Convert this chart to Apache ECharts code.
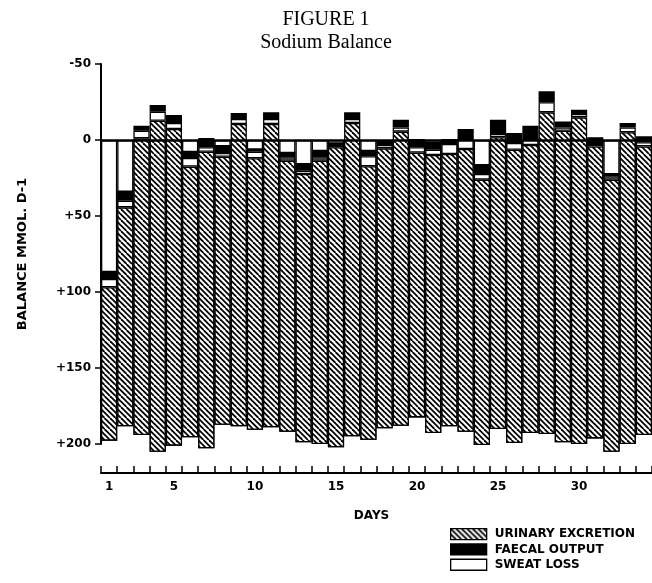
<!DOCTYPE html>
<html><head><meta charset="utf-8">
<script src="https://cdn.jsdelivr.net/npm/echarts@6/dist/echarts.min.js"></script>
<style>html,body{margin:0;padding:0;background:#fff}#c{width:652px;height:583px}</style>
</head><body><div id="c"></div>
<script>
// ---- data (mmol/day; positive = downward on the inverted balance axis) ----
const days = ['1','2','3','4','5','6','7','8','9','10','11','12','13','14','15','16','17',
  '18','19','20','21','22','23','24','25','26','27','28','29','30','31','32','33','34'];
const dayLabels = ['1','5','10','15','20','25','30'];
const yTicks = [-50, 0, 50, 100, 150, 200];
// sodium intake (bottom of each bar)
const intake = [197.8,188.4,194.1,205.1,201.1,195.6,202.8,187.3,188.4,190.6,189.0,191.9,198.9,200.0,202.2,194.9,197.2,
  189.7,188.0,182.5,192.8,188.4,191.9,200.7,190.1,199.3,192.8,193.4,198.9,200.0,196.3,205.1,200.0,194.1];
const urinary = [100.9,144.1,195.2,217.8,208.3,178.1,195.1,176.3,198.9,178.6,199.5,178.3,176.5,186.4,197.4,206.1,179.9,
  184.2,193.5,174.2,182.9,179.2,186.0,174.6,191.9,192.9,189.5,211.6,205.0,214.9,192.1,179.0,205.1,189.9];
const sweat = [5.5,4.4,5.0,5.9,4.0,5.7,2.9,2.4,3.3,4.3,3.3,2.2,2.2,2.2,1.5,2.6,6.6,
  2.2,2.8,3.5,3.5,6.6,6.6,3.7,2.1,4.4,4.0,6.6,2.2,2.2,1.6,2.2,3.2,2.7];
const faecal = [5.4,6.6,3.3,4.4,5.2,4.8,6.1,5.3,4.0,2.2,4.4,3.7,5.1,5.0,1.8,4.4,4.3,
  2.9,5.1,5.5,5.3,3.3,6.5,6.6,9.5,6.6,8.7,7.2,3.8,2.8,4.4,2.2,2.9,3.9];

// balance (top of output stack) = intake - total output
const balance = intake.map((v, i) => +(v - urinary[i] - sweat[i] - faecal[i]).toFixed(2));

function hatch() {
  const c = document.createElement('canvas');
  c.width = 11; c.height = 11;
  const g = c.getContext('2d');
  g.fillStyle = '#fff'; g.fillRect(0, 0, 11, 11);
  g.strokeStyle = '#000'; g.lineWidth = 1.8;
  for (let k = -11; k <= 11; k += 5.5) { g.beginPath(); g.moveTo(k, 0); g.lineTo(k + 11, 11); g.stroke(); }
  return c;
}
const hatchFill = { image: hatch(), repeat: 'repeat' };

const FONT = 'DejaVu Sans';
const chart = echarts.init(document.getElementById('c'), null, { renderer: 'canvas' });
const border = { borderColor: '#000', borderWidth: 1.3 };
const common = { type: 'bar', barGap: '-100%', barCategoryGap: '0%', clip: false };

chart.setOption({
  animation: false,
  backgroundColor: '#fff',
  title: [
    { text: 'FIGURE 1', left: 'center', top: 5,
      textStyle: { fontFamily: 'Liberation Serif', fontWeight: 'normal', fontSize: 20, color: '#000' } },
    { text: 'Sodium Balance', left: 'center', top: 28,
      textStyle: { fontFamily: 'Liberation Serif', fontWeight: 'normal', fontSize: 20, color: '#000' } }
  ],
  grid: { left: 101, right: -7, top: 64, bottom: 139, containLabel: false },
  legend: {
    data: ['URINARY EXCRETION', 'FAECAL OUTPUT', 'SWEAT LOSS'],
    orient: 'vertical', left: 445, top: 523, itemWidth: 36, itemHeight: 11, itemGap: 3,
    icon: 'rect', selectedMode: false,
    itemStyle: { borderColor: '#000', borderWidth: 1.3 },
    textStyle: { fontFamily: FONT, fontWeight: 'bold', fontSize: 12, color: '#000', padding: [0, 0, 0, 3], lineHeight: 12 }
  },
  xAxis: {
    type: 'category', data: days, offset: 29,
    axisLine: { show: true, onZero: false, lineStyle: { color: '#000', width: 2 } },
    axisTick: { show: true, inside: true, length: 7, interval: 0, alignWithLabel: false, lineStyle: { color: '#000', width: 1.5 } },
    axisLabel: { interval: 0, margin: 8, color: '#000', fontFamily: FONT, fontWeight: 'bold', fontSize: 12,
      formatter: v => dayLabels.indexOf(v) >= 0 ? v : '' },
    name: 'DAYS', nameLocation: 'middle', nameGap: 37,
    nameTextStyle: { fontFamily: FONT, fontWeight: 'bold', fontSize: 12, color: '#000', padding: [0, 10, 0, 0] }
  },
  yAxis: {
    type: 'value', inverse: true, min: yTicks[0], max: yTicks[yTicks.length - 1], interval: 50,
    axisLine: { show: true, lineStyle: { color: '#000', width: 2 } },
    axisTick: { show: true, length: 6, lineStyle: { color: '#000', width: 1.5 } },
    splitLine: { show: false },
    axisLabel: { margin: 10, color: '#000', fontFamily: FONT, fontWeight: 'bold', fontSize: 12,
      formatter: v => v > 0 ? '+' + v : String(v) },
    name: 'BALANCE MMOL. D-1', nameLocation: 'middle', nameGap: 72, nameRotate: 90,
    nameTextStyle: { fontFamily: FONT, fontWeight: 'bold', fontSize: 13, color: '#000' }
  },
  series: [
    Object.assign({}, common, { name: 'intake', data: intake,
      itemStyle: Object.assign({ color: '#fff' }, border) }),
    Object.assign({}, common, { name: 'base', stack: 'out', stackStrategy: 'all', data: balance,
      itemStyle: { color: 'rgba(0,0,0,0)', borderWidth: 0 } }),
    Object.assign({}, common, { name: 'FAECAL OUTPUT', stack: 'out', stackStrategy: 'all', data: faecal,
      itemStyle: Object.assign({ color: '#000' }, border) }),
    Object.assign({}, common, { name: 'SWEAT LOSS', stack: 'out', stackStrategy: 'all', data: sweat,
      itemStyle: Object.assign({ color: '#fff' }, border) }),
    Object.assign({}, common, { name: 'URINARY EXCRETION', stack: 'out', stackStrategy: 'all', data: urinary,
      itemStyle: Object.assign({ color: hatchFill }, border),
      markLine: { silent: true, symbol: ['none', 'none'], label: { show: false },
        lineStyle: { color: '#000', width: 2.5, type: 'solid' }, data: [{ yAxis: 0 }] } })
  ]
});
</script></body></html>
